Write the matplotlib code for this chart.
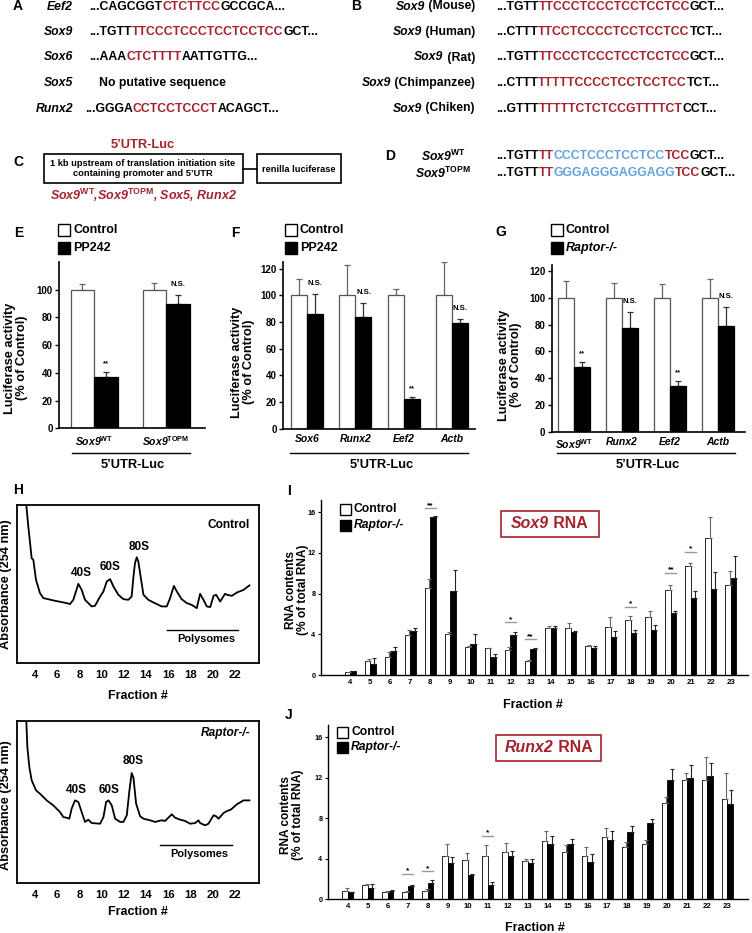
import matplotlib
matplotlib.use("Agg")
import numpy as np
import matplotlib.pyplot as plt
from matplotlib.patches import Rectangle

plt.rcParams["font.family"] = ["Liberation Sans", "DejaVu Sans"]
plt.rcParams["font.weight"] = "bold"
plt.rcParams["mathtext.fontset"] = "custom"
plt.rcParams["mathtext.rm"] = "Liberation Sans:bold"
plt.rcParams["mathtext.it"] = "Liberation Sans:italic:bold"
plt.rcParams["mathtext.bf"] = "Liberation Sans:bold"

RED = "#a3222c"
BLUE = "#62a3dd"
GREY = "#666666"
COL = {"k": "black", "r": RED, "b": BLUE}

# ---------------- A / B / D : sequences ----------------
a_genes = ["Eef2", "Sox9", "Sox6", "Sox5", "Runx2"]
a_seqs = [
    [("...CAGCGGT", "k"), ("CTCTTCC", "r"), ("GCCGCA...", "k")],
    [("...TGTT", "k"), ("TTCCCTCCCTCCTCCTCC", "r"), ("GCT...", "k")],
    [("...AAA", "k"), ("CTCTTTT", "r"), ("AATTGTTG...", "k")],
    [("No putative sequence", "k")],
    [("...GGGA", "k"), ("CCTCCTCCCT", "r"), ("ACAGCT...", "k")],
]
b_species = ["Mouse", "Human", "Rat", "Chimpanzee", "Chiken"]
b_seqs = [
    [("...TGTT", "k"), ("TTCCCTCCCTCCTCCTCC", "r"), ("GCT...", "k")],
    [("...CTTT", "k"), ("TTCCTCCCCTCCTCCTCC", "r"), ("TCT...", "k")],
    [("...TGTT", "k"), ("TTCCCTCCCTCCTCCTCC", "r"), ("GCT...", "k")],
    [("...CTTT", "k"), ("TTTTTCCCCTCCTCCTCC", "r"), ("TCT...", "k")],
    [("...GTTT", "k"), ("TTTTTCTCTCCGTTTTCT", "r"), ("CCT...", "k")],
]
d_names = ["Sox9$^{\\mathrm{WT}}$", "Sox9$^{\\mathrm{TOPM}}$"]
d_seqs = [
    [("...TGTT", "k"), ("TT", "r"), ("CCCTCCCTCCTCC", "b"), ("TCC", "r"), ("GCT...", "k")],
    [("...TGTT", "k"), ("TT", "r"), ("GGGAGGGAGGAGG", "b"), ("TCC", "r"), ("GCT...", "k")],
]

# ---------------- E / F / G : luciferase ----------------
e_genes = ["Sox9$^{\\mathrm{WT}}$", "Sox9$^{\\mathrm{TOPM}}$"]
e_ctrl = [100, 100]
e_ctrl_err = [4.3, 4.8]
e_trt = [37.3, 89.9]
e_trt_err = [3.2, 6.2]
e_sig = ["**", "N.S."]

f_genes = ["Sox6", "Runx2", "Eef2", "Actb"]
f_ctrl = [100, 100, 100, 100]
f_ctrl_err = [12.5, 23.0, 4.5, 25.0]
f_trt = [86.0, 83.5, 22.0, 79.5]
f_trt_err = [15.0, 10.5, 2.0, 3.0]
f_sig = ["N.S.", "N.S.", "**", "N.S."]

g_genes = ["Sox9$^{\\mathrm{WT}}$", "Runx2", "Eef2", "Actb"]
g_ctrl = [100, 100, 100, 100]
g_ctrl_err = [12.7, 11.4, 10.2, 14.4]
g_trt = [48.5, 77.6, 34.3, 79.1]
g_trt_err = [3.2, 12.0, 3.5, 13.7]
g_sig = ["**", "N.S.", "**", "N.S."]

# ---------------- H : polysome profiles ----------------
h_ctrl_x = [3.15, 3.4, 3.7, 3.85, 4.09, 4.45, 4.75, 5.65, 6.85, 7.15, 7.45, 7.9, 8.2, 8.5, 9.1,
            9.4, 9.86, 10.16, 10.46, 10.76, 11.06, 11.5, 11.96, 12.4, 12.7, 12.86, 13.0, 13.16, 13.3,
            13.46, 13.76, 14.2, 14.66, 15.4, 15.86, 16.16, 16.5, 16.76, 17.2, 17.66, 18.1, 18.56,
            18.86, 19.16, 19.46, 19.77, 20.07, 20.3, 20.67, 21.1, 21.27, 21.72, 22.17, 22.77, 23.3]
h_ctrl_y = [1.05, 0.863, 0.663, 0.653, 0.526, 0.442, 0.411, 0.396, 0.379, 0.373, 0.4, 0.501, 0.463,
            0.4, 0.358, 0.362, 0.421, 0.453, 0.516, 0.531, 0.484, 0.432, 0.404, 0.4, 0.421, 0.547,
            0.632, 0.669, 0.642, 0.568, 0.432, 0.4, 0.383, 0.358, 0.358, 0.411, 0.488, 0.453, 0.404,
            0.379, 0.368, 0.347, 0.438, 0.4, 0.358, 0.354, 0.425, 0.432, 0.389, 0.438, 0.432, 0.425,
            0.446, 0.463, 0.491]
h_rap_x = [3.19, 3.31, 3.49, 3.7, 4.09, 4.45, 5.05, 5.65, 6.25, 6.55, 6.85, 7.09, 7.3, 7.6, 7.9,
           8.2, 8.5, 8.8, 9.1, 9.86, 10.16, 10.4, 10.61, 10.91, 11.21, 11.66, 11.96, 12.26, 12.5,
           12.7, 12.86, 13.1, 13.46, 13.76, 14.36, 14.81, 15.4, 15.71, 16.0, 16.31, 16.61, 17.06,
           17.51, 17.96, 18.41, 18.71, 18.86, 19.31, 19.61, 20.07, 20.3, 20.52, 20.97, 21.27, 21.63,
           22.17, 22.77, 23.3]
h_rap_y = [1.05, 0.84, 0.716, 0.634, 0.572, 0.551, 0.51, 0.479, 0.438, 0.407, 0.403, 0.397, 0.459,
           0.51, 0.5, 0.438, 0.377, 0.391, 0.37, 0.366, 0.407, 0.5, 0.51, 0.479, 0.397, 0.377, 0.377,
           0.418, 0.572, 0.679, 0.65, 0.49, 0.412, 0.397, 0.387, 0.377, 0.387, 0.383, 0.403, 0.424,
           0.403, 0.391, 0.383, 0.366, 0.37, 0.387, 0.37, 0.356, 0.366, 0.418, 0.412, 0.397, 0.432,
           0.444, 0.453, 0.486, 0.51, 0.51]
h_ctrl_peaks = [("40S", 8.2, 0.57), ("60S", 10.8, 0.606), ("80S", 13.35, 0.737)]
h_rap_peaks = [("40S", 7.7, 0.576), ("60S", 10.7, 0.576), ("80S", 12.8, 0.751)]
h_ticks = list(range(4, 23, 2))

# ---------------- I / J : RNA distribution ----------------
fractions = list(range(4, 24))
sox9_ctrl = [0.26, 1.38, 1.77, 3.93, 8.52, 4.0, 2.72, 2.62, 2.46, 1.38, 4.59, 4.66, 2.85, 4.75,
             5.44, 5.74, 8.36, 10.72, 13.44, 8.85]
sox9_ctrl_err = [0.04, 0.19, 0.46, 0.5, 0.89, 0.26, 0.17, 0.07, 0.26, 0.1, 0.26, 0.42, 0.1, 0.99,
                 0.36, 0.59, 0.46, 0.33, 2.13, 1.38]
sox9_rap = [0.39, 1.08, 2.39, 4.36, 15.5, 8.26, 3.05, 1.74, 3.93, 2.52, 4.66, 4.26, 2.66, 3.7,
            4.16, 4.43, 6.07, 7.6, 8.46, 9.57]
sox9_rap_err = [0.03, 0.56, 0.4, 0.23, 0.14, 2.07, 0.95, 0.29, 0.27, 0.17, 0.19, 0.04, 0.23, 0.66,
                0.27, 0.49, 0.26, 0.7, 1.7, 2.17]
sox9_sig = {8: ("**", 16.4), 12: ("*", 5.18), 13: ("**", 3.5), 18: ("*", 6.72), 20: ("**", 10.07),
            21: ("*", 12.13)}

runx2_ctrl = [0.75, 1.34, 0.69, 0.69, 0.75, 4.26, 3.87, 4.3, 4.69, 3.77, 5.74, 4.69, 4.3, 6.16,
              5.11, 5.44, 9.51, 11.8, 11.8, 9.9]
runx2_ctrl_err = [0.33, 0.14, 0.06, 0.06, 0.27, 1.18, 0.72, 1.04, 0.82, 0.2, 0.98, 0.65, 0.88,
                  0.82, 0.56, 0.4, 0.59, 0.66, 2.23, 2.59]
runx2_rap = [0.66, 1.11, 0.79, 1.31, 1.61, 3.54, 2.36, 1.34, 4.26, 3.54, 5.44, 5.44, 3.61, 5.84,
             6.66, 7.48, 11.74, 11.97, 12.13, 9.44]
runx2_rap_err = [0.06, 0.37, 0.06, 0.1, 0.29, 0.66, 0.1, 0.33, 0.53, 0.43, 0.82, 0.49, 0.82, 0.88,
                 0.55, 0.39, 1.15, 1.31, 1.35, 1.38]
runx2_sig = {7: ("*", 2.49), 8: ("*", 2.72), 11: ("*", 6.26)}
ij_ticks = [0, 4, 8, 12, 16]

# ---------------- figure ----------------
W, H = 752, 933
fig = plt.figure(figsize=(W / 100, H / 100), dpi=100)


def px_axes(x0, y0, x1, y1):
    return fig.add_axes([x0 / W, 1 - y1 / H, (x1 - x0) / W, (y1 - y0) / H])


ov = fig.add_axes([0, 0, 1, 1])
ov.set_xlim(0, W)
ov.set_ylim(H, 0)
ov.axis("off")
ov.set_zorder(10)


def chain(x, y, parts, size, ha="left"):
    # parts: (text, colour, style) placed side by side on one baseline
    kw = dict(fontsize=size, fontweight="bold")
    if ha == "left":
        s, c, st = parts[0]
        prev = ov.text(x, y, s, color=c, style=st, ha="left", va="center", **kw)
        for s, c, st in parts[1:]:
            prev = ov.annotate(s, xy=(1, 0), xycoords=prev, color=c, style=st,
                               ha="left", va="bottom", **kw)
    else:
        s, c, st = parts[-1]
        prev = ov.text(x, y, s, color=c, style=st, ha="right", va="center", **kw)
        for s, c, st in reversed(parts[:-1]):
            prev = ov.annotate(s, xy=(0, 0), xycoords=prev, color=c, style=st,
                               ha="right", va="bottom", **kw)


def label(x, y, s, size=10):
    ov.text(x, y, s, fontsize=size, fontweight="bold", ha="center", va="center")


SEQ = 8.8
# A
label(18, 6, "A")
for i, (g, seq) in enumerate(zip(a_genes, a_seqs)):
    y = 6.5 + 25.5 * i
    ov.text(73, y, g, fontsize=SEQ, style="italic", ha="right", va="center")
    x0 = 99 if g == "Sox5" else (85 if g == "Runx2" else 89)
    chain(x0, y, [(s, COL[c], "normal") for s, c in seq], SEQ)
# B
label(356, 6, "B")
for i, (sp, seq) in enumerate(zip(b_species, b_seqs)):
    y = 6.5 + 25.5 * i
    chain(475, y, [("Sox9", "black", "italic"), (" (" + sp + ")", "black", "normal")], SEQ, ha="right")
    chain(496, y, [(s, COL[c], "normal") for s, c in seq], SEQ)

# C
label(18, 162, "C")
ov.text(143, 145, "5\u2019UTR-Luc", color=RED, fontsize=9.3, ha="center", va="center")
ov.add_patch(Rectangle((44, 154), 199, 29, facecolor="white", edgecolor="black", lw=1.2))
ov.add_patch(Rectangle((257, 154), 84, 29, facecolor="white", edgecolor="black", lw=1.2))
ov.plot([243, 257], [168.5, 168.5], color="black", lw=1.2)
ov.text(143, 163, "1 kb upstream of translation initiation site", fontsize=6.7, ha="center", va="center")
ov.text(143, 174, "containing promoter and 5\u2019UTR", fontsize=6.7, ha="center", va="center")
ov.text(299, 169, "renilla luciferase", fontsize=6.7, ha="center", va="center")
ov.text(143, 195, "Sox9$^{\\mathrm{WT}}$,Sox9$^{\\mathrm{TOPM}}$, Sox5, Runx2", color=RED,
        fontsize=9, style="italic", ha="center", va="center")

# D
label(390, 156, "D")
for i, (nm, seq) in enumerate(zip(d_names, d_seqs)):
    y = 156 + 17.3 * i
    ov.text(443, y, nm, fontsize=SEQ, style="italic", ha="center", va="center")
    chain(496, y, [(s, COL[c], "normal") for s, c in seq], SEQ)


def legend_sq(x, y, txt, fill, size=9, sq=12, italic=False):
    ov.add_patch(Rectangle((x, y - sq / 2), sq, sq, facecolor=fill, edgecolor="black", lw=1))
    ov.text(x + sq + 3, y, txt, fontsize=size, style="italic" if italic else "normal",
            ha="left", va="center")


def bar_panel(ax, genes, ctrl, ctrl_err, trt, trt_err, sig, width, ylim, ytop, ylab_xy):
    x = np.arange(len(genes))
    n = len(genes)
    ax.bar(x - width / 2, ctrl, width, color="white", edgecolor="#555555", lw=0.9, zorder=2)
    ax.bar(x + width / 2, trt, width, color="black", edgecolor="black", lw=0.9, zorder=2)
    ax.errorbar(x - width / 2, ctrl, yerr=[np.zeros(n), ctrl_err], fmt="none", ecolor=GREY,
                elinewidth=0.9, capsize=2, capthick=0.9, zorder=1)
    ax.errorbar(x + width / 2, trt, yerr=[np.zeros(n), trt_err], fmt="none", ecolor="#333333",
                elinewidth=0.9, capsize=2, capthick=0.9, zorder=1)
    for xi, v, e, s in zip(x, trt, trt_err, sig):
        ax.annotate(s, xy=(xi + width / 2, v + e), xytext=(0, 6.5 if s == "N.S." else 5),
                    textcoords="offset points", ha="center", va="baseline", fontsize=5.5)
    ax.set_ylim(*ylim)
    ax.set_yticks(np.arange(0, ytop + 1, 20))
    ax.set_xticks(x)
    ax.set_xticklabels(genes, style="italic", fontsize=7.5)
    ax.tick_params(axis="x", length=0, pad=4)
    ax.tick_params(axis="y", length=3, width=1, labelsize=7, pad=1.5)
    for sp in ["top", "right"]:
        ax.spines[sp].set_visible(False)
    for sp in ["left", "bottom"]:
        ax.spines[sp].set_linewidth(1.2)
    ax.set_facecolor("none")
    ov.text(ylab_xy[0], ylab_xy[1], "Luciferase activity\n(% of Control)", fontsize=9.2,
            rotation=90, ha="center", va="center", linespacing=0.95)


# E
label(19, 233, "E")
legend_sq(58, 230, "Control", "white")
legend_sq(58, 248, "PP242", "black")
axE = px_axes(59, 262, 205, 428.3)
axE.set_xlim(-0.49, 1.54)
bar_panel(axE, e_genes, e_ctrl, e_ctrl_err, e_trt, e_trt_err, e_sig, 0.328, (0, 120), 100, (16, 358))
ov.plot([72, 190], [453, 453], color="black", lw=1)
ov.text(133, 465, "5\u2019UTR-Luc", fontsize=9.3, ha="center", va="center")

# F
label(235, 233, "F")
legend_sq(285, 230, "Control", "white")
legend_sq(285, 248, "PP242", "black")
axF = px_axes(283, 262, 475, 428.8)
axF.set_xlim(-0.504, 3.48)
bar_panel(axF, f_genes, f_ctrl, f_ctrl_err, f_trt, f_trt_err, f_sig, 0.332, (0, 125), 120, (243, 362))
ov.plot([290, 468], [453, 453], color="black", lw=1)
ov.text(382, 465, "5\u2019UTR-Luc", fontsize=9.3, ha="center", va="center")

# G
label(501, 232, "G")
legend_sq(551, 230, "Control", "white")
legend_sq(551, 248, "Raptor-/-", "black", italic=True)
axG = px_axes(551.7, 265, 745, 431.7)
axG.set_xlim(-0.465, 3.56)
bar_panel(axG, g_genes, g_ctrl, g_ctrl_err, g_trt, g_trt_err, g_sig, 0.34, (0, 124.5), 120, (510, 365))
ov.plot([557, 735], [453, 453], color="black", lw=1)
ov.text(648, 465, "5\u2019UTR-Luc", fontsize=9.3, ha="center", va="center")


# H
def profile(ax, xs, ys, peaks, poly, tag, tag_italic, y_box):
    ax.plot(xs, ys, color="black", lw=1.3)
    ax.set_xlim(2.38, 24.16)
    ax.set_ylim(0, 1)
    ax.set_xticks(h_ticks)
    ax.set_yticks([])
    ax.tick_params(axis="x", length=0, labelsize=8.2, pad=5)
    for sp in ax.spines.values():
        sp.set_linewidth(1.3)
    for s, px, py in peaks:
        ax.text(px, py, s, fontsize=8.5, ha="center", va="center")
    ax.plot([poly[0], poly[1]], [poly[2], poly[2]], color="black", lw=1)
    ax.text((poly[0] + poly[1]) / 2 + 0.3, poly[2] - 0.055, "Polysomes", fontsize=7.9,
            ha="center", va="center")
    ax.text(0.963, y_box, tag, transform=ax.transAxes, fontsize=8.6, ha="right", va="center",
            style="italic" if tag_italic else "normal")


label(18, 490, "H")
axH1 = px_axes(17, 505, 259, 663)
profile(axH1, h_ctrl_x, h_ctrl_y, h_ctrl_peaks, (15.86, 22.3, 0.206), "Control", False, 0.873)
ov.text(138, 696, "Fraction #", fontsize=9, ha="center", va="center")
ov.text(6, 584, "Absorbance (254 nm)", fontsize=9.2, rotation=90, ha="center", va="center")

axH2 = px_axes(17, 721, 259, 883)
profile(axH2, h_rap_x, h_rap_y, h_rap_peaks, (15.25, 21.7, 0.233), "Raptor-/-", True, 0.926)
ov.text(138, 912, "Fraction #", fontsize=9, ha="center", va="center")
ov.text(6, 805, "Absorbance (254 nm)", fontsize=9.2, rotation=90, ha="center", va="center")


# I / J
def rna_panel(ax, ctrl, ctrl_err, rap, rap_err, sig, xlim):
    x = np.array(fractions, dtype=float)
    w = 0.275
    n = len(x)
    ax.bar(x - w / 2, ctrl, w, color="white", edgecolor="black", lw=0.6, zorder=2)
    ax.bar(x + w / 2, rap, w, color="black", edgecolor="black", lw=0.6, zorder=2)
    ax.errorbar(x - w / 2 + 0.08, ctrl, yerr=[np.zeros(n), ctrl_err], fmt="none", ecolor=GREY,
                elinewidth=0.8, capsize=1.5, capthick=0.8, zorder=3)
    ax.errorbar(x + w / 2 + 0.08, rap, yerr=[np.zeros(n), rap_err], fmt="none", ecolor="#222222",
                elinewidth=0.8, capsize=1.5, capthick=0.8, zorder=3)
    for f, (s, yl) in sig.items():
        ax.plot([f - w, f + w], [yl, yl], color="#999999", lw=1)
        ax.annotate(s, xy=(f, yl), xytext=(0, 1), textcoords="offset points", ha="center",
                    va="baseline", fontsize=6)
    ax.set_xlim(*xlim)
    ax.set_ylim(0, 17.2)
    ax.set_xticks(fractions)
    ax.set_yticks(ij_ticks)
    ax.tick_params(axis="x", length=0, labelsize=5.6, pad=3)
    ax.tick_params(axis="y", length=2.5, width=0.8, labelsize=5.2, pad=1.5)
    for sp in ["top", "right"]:
        ax.spines[sp].set_visible(False)
    for sp in ["left", "bottom"]:
        ax.spines[sp].set_linewidth(1)
    ax.set_facecolor("none")


def title_box(x0, y0, x1, y1, gene, tx):
    ov.add_patch(Rectangle((x0, y0), x1 - x0, y1 - y0, facecolor="white", edgecolor=RED, lw=1.2))
    chain(tx, (y0 + y1) / 2, [(gene, RED, "italic"), (" RNA", RED, "normal")], 11.4)


label(289, 491, "I")
axI = px_axes(321, 500, 748, 675)
rna_panel(axI, sox9_ctrl, sox9_ctrl_err, sox9_rap, sox9_rap_err, sox9_sig, (2.55, 23.85))
legend_sq(340, 509, "Control", "white", size=8.7, sq=11)
legend_sq(340, 525, "Raptor-/-", "black", size=8.7, sq=11, italic=True)
title_box(501, 511, 599, 537, "Sox9", 511)
ov.text(297, 590, "RNA contents\n(% of total RNA)", fontsize=8.6, rotation=90, ha="center",
        va="center", linespacing=0.95)
ov.text(533, 705, "Fraction #", fontsize=9, ha="center", va="center")

label(289, 715, "J")
axJ = px_axes(328, 725, 748, 899)
rna_panel(axJ, runx2_ctrl, runx2_ctrl_err, runx2_rap, runx2_rap_err, runx2_sig, (3.0, 24.05))
legend_sq(337, 732, "Control", "white", size=8.7, sq=11)
legend_sq(337, 747, "Raptor-/-", "black", size=8.7, sq=11, italic=True)
title_box(496, 735, 601, 761, "Runx2", 505)
ov.text(292, 815, "RNA contents\n(% of total RNA)", fontsize=8.6, rotation=90, ha="center",
        va="center", linespacing=0.95)
ov.text(535, 928, "Fraction #", fontsize=9, ha="center", va="center")

fig.savefig("out.png", dpi=100)
